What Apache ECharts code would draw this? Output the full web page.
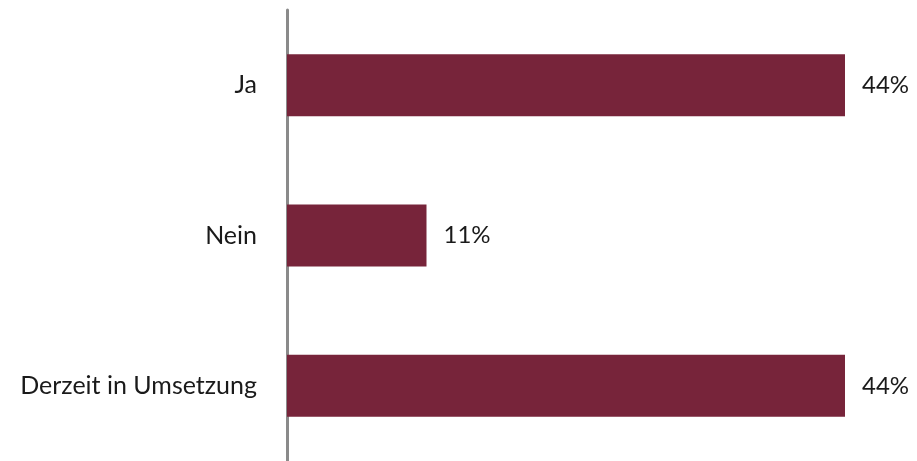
<!DOCTYPE html>
<html>
<head>
<meta charset="utf-8">
<script src="https://cdn.jsdelivr.net/npm/echarts@6/dist/echarts.min.js"></script>
<style>
  html, body { margin: 0; padding: 0; background: #ffffff; }
  #chart { width: 917px; height: 461px; }
</style>
</head>
<body>
<div id="chart"></div>
<script>
// Answer categories and their shares (percent)
const categories = ['Ja', 'Nein', 'Derzeit in Umsetzung'];
const shares = [44, 11, 44];

const chart = echarts.init(document.getElementById('chart'), null, { renderer: 'canvas' });

chart.setOption({
  animation: false,
  backgroundColor: '#ffffff',
  grid: { left: 287, right: 72, top: 10, height: 454, containLabel: false },
  xAxis: {
    type: 'value',
    min: 0,
    max: 44,
    show: false
  },
  yAxis: {
    type: 'category',
    data: categories,
    inverse: true,
    axisLine: { show: true, lineStyle: { color: '#8a8a8a', width: 3 } },
    axisTick: { show: false },
    axisLabel: {
      margin: 30,
      fontFamily: 'Lato',
      fontSize: 25,
      color: '#1a1a1a',
      padding: [5, 0, 0, 0]
    }
  },
  series: [{
    type: 'bar',
    data: shares,
    barWidth: 62,
    itemStyle: { color: '#77243a' },
    label: {
      show: true,
      position: 'right',
      distance: 17,
      formatter: '{c}%',
      fontFamily: 'Lato',
      fontSize: 24,
      color: '#1a1a1a',
      padding: [5, 0, 0, 0]
    }
  }]
});
</script>
</body>
</html>
